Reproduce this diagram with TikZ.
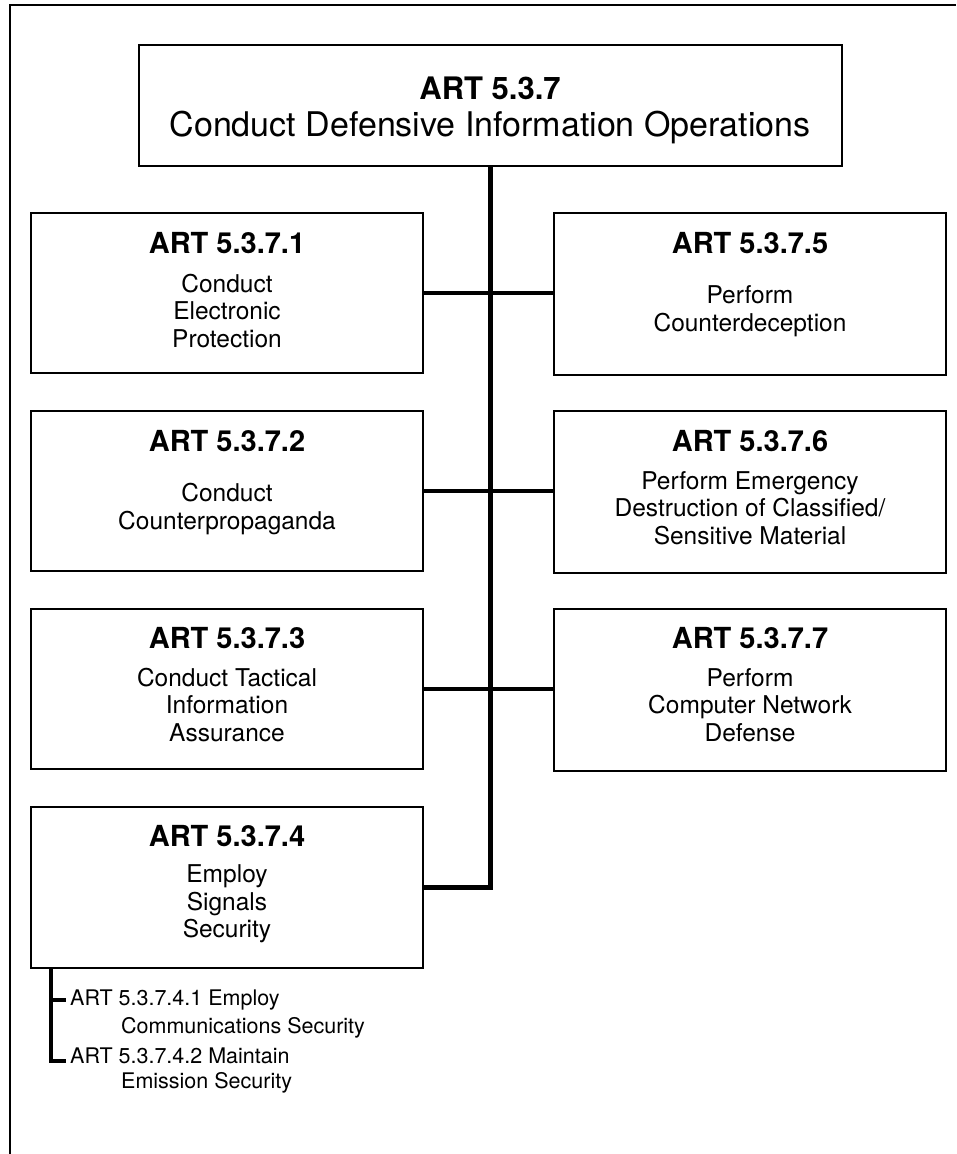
\documentclass[tikz,border=0pt]{standalone}
\usepackage{fontspec}
\setmainfont{TeX Gyre Heros}
\begin{document}
\begin{tikzpicture}[x=1pt,y=-1pt,
  box/.style={draw, line width=2.3pt, anchor=north west, inner sep=0pt, outer sep=0pt, minimum width=392pt, minimum height=160pt},
  rbox/.style={box, minimum height=162pt},
  ttl/.style={font=\bfseries\fontsize{29}{32}\selectfont, inner sep=0pt, anchor=base},
  body/.style={font=\fontsize{24.5}{27.5}\selectfont, align=center, inner sep=0pt},
  conn/.style={line width=4.3pt},
  subbar/.style={line width=4pt},
  sub/.style={font=\fontsize{21.5}{25}\selectfont, anchor=base west, inner sep=0pt}]
\useasboundingbox (0,0) rectangle (956,1154);
% frame
\draw[line width=2.5pt] (10,1154) -- (10,5) -- (956,5);
% top box
\node[draw, line width=2.3pt, inner sep=0pt, outer sep=0pt, minimum width=703pt, minimum height=121pt] (top) at (490.5,105.5) {};
\node[font=\bfseries\fontsize{31}{34}\selectfont, inner sep=0pt, anchor=base] (toptitle) at (490,99.5) {ART 5.3.7};
\node[font=\fontsize{34}{38}\selectfont, inner sep=0pt, anchor=base] (topsub) at (490,136.5) {Conduct Defensive Information Operations};
% left boxes
\node[box] (box1) at (31,213) {};
\node[box] (box2) at (31,411) {};
\node[box] (box3) at (31,609) {};
\node[box, minimum height=161pt] (box4) at (31,807) {};
% right boxes
\node[rbox] (box5) at (554,213) {};
\node[rbox] (box6) at (554,411) {};
\node[rbox] (box7) at (554,609) {};
% titles
\node[ttl] (t1) at (227,253) {ART 5.3.7.1};
\node[ttl] (t2) at (227,451) {ART 5.3.7.2};
\node[ttl] (t3) at (227,648) {ART 5.3.7.3};
\node[ttl] (t4) at (227,846.5) {ART 5.3.7.4};
\node[ttl] (t5) at (750,253) {ART 5.3.7.5};
\node[ttl] (t6) at (750,451) {ART 5.3.7.6};
\node[ttl] (t7) at (750,648) {ART 5.3.7.7};
% bodies
\node[body] (b1) at (227,311) {Conduct\\Electronic\\Protection};
\node[body] (b2) at (227,509) {Conduct\\Counterpropaganda};
\node[body] (b3) at (227,705) {Conduct Tactical\\Information\\Assurance};
\node[body] (b4) at (227,904) {Employ\\Signals\\Security};
\node[body] (b5) at (750,311) {Perform\\Counterdeception};
\node[body] (b6) at (750,508) {Perform Emergency\\Destruction of Classified/\\Sensitive Material};
\node[body] (b7) at (750,705) {Perform\\Computer Network\\Defense};
% connectors
\draw[conn] (top.south) -- (top.south |- box4.east) -- (box4.east);
\draw[conn] (box1.east) -- (box1.east -| box5.west);
\draw[conn] (box2.east) -- (box2.east -| box6.west);
\draw[conn] (box3.east) -- (box3.east -| box7.west);
% sub items
\coordinate (s0) at (51,968);
\coordinate (s1) at (66,999.5);
\coordinate (s2) at (66,1061);
\draw[subbar] (s0) -- (s0 |- s2) -- (s2);
\draw[subbar] (s0 |- s1) -- (s1);
\node[sub] (i1a) at (70,1005) {ART 5.3.7.4.1 Employ};
\node[sub] (i1b) at (121,1033) {Communications Security};
\node[sub] (i2a) at (70,1063) {ART 5.3.7.4.2 Maintain};
\node[sub] (i2b) at (121,1088) {Emission Security};
\end{tikzpicture}
\end{document}
